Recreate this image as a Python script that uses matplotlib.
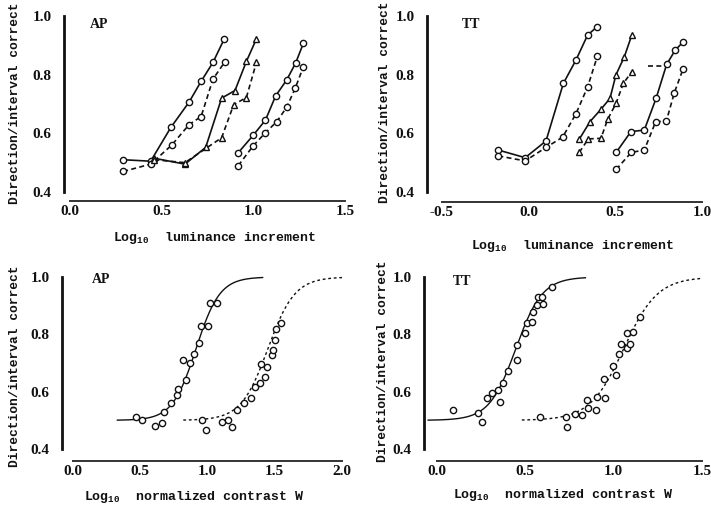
import numpy as np
import matplotlib.pyplot as plt

plt.rcParams['font.family'] = 'Liberation Serif'
plt.rcParams['font.weight'] = 'bold'
plt.rcParams['axes.labelweight'] = 'bold'
plt.rcParams['mathtext.fontset'] = 'custom'
plt.rcParams['mathtext.bf'] = 'Liberation Mono:bold'
plt.rcParams['mathtext.rm'] = 'Liberation Mono:bold'

W, H = 711, 508

# --- AP, luminance increment: three conditions, solid / dashed pairs
ap_c_sol_x = [0.29, 0.44, 0.55, 0.65, 0.715, 0.78, 0.84]
ap_c_sol_y = [0.51, 0.505, 0.62, 0.707, 0.777, 0.842, 0.92]
ap_c_das_x = [0.29, 0.44, 0.555, 0.65, 0.715, 0.78, 0.845]
ap_c_das_y = [0.47, 0.495, 0.56, 0.63, 0.657, 0.785, 0.844]
ap_t_sol_x = [0.46, 0.627, 0.74, 0.827, 0.90, 0.962, 1.017]
ap_t_sol_y = [0.515, 0.495, 0.552, 0.72, 0.746, 0.845, 0.922]
ap_t_das_x = [0.46, 0.627, 0.827, 0.893, 0.962, 1.017]
ap_t_das_y = [0.51, 0.50, 0.585, 0.698, 0.722, 0.842]
ap_d_sol_x = [0.918, 1.0, 1.066, 1.122, 1.182, 1.231, 1.273]
ap_d_sol_y = [0.534, 0.594, 0.645, 0.728, 0.782, 0.84, 0.907]
ap_d_das_x = [0.918, 1.0, 1.066, 1.128, 1.182, 1.228, 1.273]
ap_d_das_y = [0.49, 0.558, 0.602, 0.64, 0.689, 0.753, 0.827]

# --- TT, luminance increment
tt_c_sol_x = [-0.175, -0.02, 0.10, 0.20, 0.273, 0.34, 0.396]
tt_c_sol_y = [0.543, 0.517, 0.574, 0.77, 0.85, 0.935, 0.964]
tt_c_das_x = [-0.175, -0.02, 0.10, 0.196, 0.273, 0.34, 0.396]
tt_c_das_y = [0.523, 0.506, 0.552, 0.587, 0.667, 0.758, 0.862]
tt_t_sol_x = [0.292, 0.354, 0.417, 0.469, 0.504, 0.552, 0.595]
tt_t_sol_y = [0.58, 0.64, 0.682, 0.719, 0.80, 0.861, 0.935]
tt_t_das_x = [0.292, 0.344, 0.417, 0.456, 0.504, 0.546, 0.595]
tt_t_das_y = [0.535, 0.581, 0.583, 0.648, 0.702, 0.77, 0.81]
tt_d_sol_x = [0.505, 0.59, 0.667, 0.735, 0.796, 0.846, 0.892]
tt_d_sol_y = [0.535, 0.606, 0.611, 0.719, 0.835, 0.884, 0.912]
tt_d_das_x = [0.505, 0.592, 0.667, 0.733, 0.794, 0.84, 0.89]
tt_d_das_y = [0.477, 0.535, 0.543, 0.64, 0.641, 0.738, 0.818]
tt_stub_x = [0.69, 0.78]
tt_stub_y = [0.83, 0.83]

# --- AP, normalized contrast W (pooled points)
apw_sol_x = [0.47, 0.51, 0.61, 0.66, 0.68, 0.73, 0.77, 0.78, 0.82, 0.84,
             0.87, 0.90, 0.94, 0.95, 1.00, 1.02, 1.07]
apw_sol_y = [0.51, 0.50, 0.48, 0.49, 0.53, 0.56, 0.59, 0.61, 0.71, 0.64,
             0.70, 0.73, 0.77, 0.83, 0.83, 0.91, 0.91]
apw_das_x = [0.96, 0.99, 1.11, 1.155, 1.18, 1.22, 1.27, 1.32, 1.35, 1.39,
             1.40, 1.43, 1.44, 1.48, 1.49, 1.50, 1.51, 1.55]
apw_das_y = [0.50, 0.466, 0.495, 0.50, 0.478, 0.536, 0.559, 0.577, 0.617, 0.629,
             0.695, 0.652, 0.687, 0.728, 0.745, 0.78, 0.82, 0.838]

# --- TT, normalized contrast W
ttw_sol_x = [0.09, 0.234, 0.253, 0.281, 0.31, 0.347, 0.357, 0.375, 0.404, 0.451,
             0.451, 0.498, 0.508, 0.536, 0.545, 0.564, 0.573, 0.592, 0.598, 0.649]
ttw_sol_y = [0.536, 0.525, 0.495, 0.577, 0.596, 0.606, 0.565, 0.629, 0.673, 0.71,
             0.763, 0.804, 0.841, 0.844, 0.879, 0.902, 0.929, 0.931, 0.906, 0.964]
ttw_das_x = [0.583, 0.73, 0.738, 0.781, 0.819, 0.847, 0.856, 0.90, 0.904, 0.951,
             0.945, 0.998, 1.013, 1.032, 1.04, 1.074, 1.092, 1.074, 1.107, 1.149]
ttw_das_y = [0.511, 0.511, 0.478, 0.522, 0.519, 0.571, 0.542, 0.536, 0.58, 0.577,
             0.643, 0.69, 0.658, 0.73, 0.768, 0.751, 0.768, 0.806, 0.809, 0.859]

# logistic psychometric fits: (threshold, spread, x from, x to)
apw_sol_fit = (0.915, 0.088, 0.33, 1.41)
apw_das_fit = (1.449, 0.100, 0.82, 2.0)
ttw_sol_fit = (0.446, 0.075, -0.05, 0.84)
ttw_das_fit = (1.057, 0.0955, 0.48, 1.5)

DASH = (0, (3, 2))
FITDASH = (0, (2, 2))
INK = '#111111'
LABEL_FONT = 'Liberation Mono'


def place(fig, box, xref, yref):
    # box in pixels (left, right, top, bottom); refs are two (pixel, value) pairs
    l, r, t, b = box
    (px0, vx0), (px1, vx1) = xref
    (py0, vy0), (py1, vy1) = yref
    kx = (vx1 - vx0) / (px1 - px0)
    ky = (vy1 - vy0) / (py1 - py0)
    ax = fig.add_axes([l / W, 1 - b / H, (r - l) / W, (b - t) / H])
    ax.set_xlim(vx0 + (l - px0) * kx, vx0 + (r - px0) * kx)
    ax.set_ylim(vy0 + (b - py0) * ky, vy0 + (t - py0) * ky)
    return ax


def style(ax, xticks, xlab, xlab_px, ylab_px, tag, tag_xy):
    for s in ('top', 'right'):
        ax.spines[s].set_visible(False)
    ax.spines['left'].set_bounds(0.4, 1.0)
    ax.spines['left'].set_linewidth(2)
    ax.spines['left'].set_color(INK)
    ax.spines['bottom'].set_bounds(xticks[0], xticks[-1])
    ax.spines['bottom'].set_linewidth(1.4)
    ax.spines['bottom'].set_color('#333333')
    ax.set_yticks([0.4, 0.6, 0.8, 1.0])
    ax.set_yticklabels(['0.4', '0.6', '0.8', '1.0'])
    ax.set_xticks(xticks)
    ax.set_xticklabels([f'{v:.1f}' for v in xticks])
    ax.tick_params(axis='both', length=0, labelsize=11, labelcolor=INK)
    ax.tick_params(axis='y', pad=9)
    ax.tick_params(axis='x', pad=3)
    ax.set_xlabel(xlab, fontsize=9.5, color=INK, family=LABEL_FONT)
    ax.xaxis.set_label_coords(xlab_px[0] / W, 1 - xlab_px[1] / H, transform=ax.figure.transFigure)
    ax.xaxis.label.set_va('center')
    ax.set_ylabel('Direction/interval correct', fontsize=9.3, color=INK, family=LABEL_FONT)
    ax.yaxis.set_label_coords(ylab_px[0] / W, 1 - ylab_px[1] / H, transform=ax.figure.transFigure)
    ax.yaxis.label.set_va('center')
    ax.text(tag_xy[0], tag_xy[1], tag, fontsize=10, ha='left', va='center', color=INK)


def pair(ax, xs, ys, marker):
    ax.plot(xs, ys, color=INK, lw=1.2, marker=marker, ms=4.5,
            mfc='white', mec=INK, mew=1.0)


def dpair(ax, xs, ys, marker):
    ax.plot(xs, ys, color=INK, lw=1.2, ls=DASH, marker=marker, ms=4.5,
            mfc='white', mec=INK, mew=1.0)


def fit(ax, params, ls):
    m, s, x0, x1 = params
    xx = np.linspace(x0, x1, 200)
    yy = 0.5 + 0.5 / (1 + np.exp(-(xx - m) / s))
    ax.plot(xx, yy, color=INK, lw=1.0, ls=ls)


def pts(ax, xs, ys):
    ax.plot(xs, ys, ls='none', marker='o', ms=4.5, mfc='white', mec=INK, mew=1.0)


fig = plt.figure(figsize=(W / 100, H / 100), dpi=100)

# top left: AP luminance
ax1 = place(fig, (64, 350, 8, 201), ((70, 0.0), (345, 1.5)), ((16, 1.0), (192, 0.4)))
pair(ax1, ap_c_sol_x, ap_c_sol_y, 'o')
dpair(ax1, ap_c_das_x, ap_c_das_y, 'o')
pair(ax1, ap_t_sol_x, ap_t_sol_y, '^')
dpair(ax1, ap_t_das_x, ap_t_das_y, '^')
pair(ax1, ap_d_sol_x, ap_d_sol_y, 'o')
dpair(ax1, ap_d_das_x, ap_d_das_y, 'o')
style(ax1, [0.0, 0.5, 1.0, 1.5], r'Log$_{\mathbf{10}}$  luminance increment',
      (215, 238), (15, 103), 'AP', (0.11, 0.97))

# top right: TT luminance
ax2 = place(fig, (427, 706, 8, 202), ((442, -0.5), (702, 1.0)), ((16, 1.0), (192, 0.4)))
pair(ax2, tt_c_sol_x, tt_c_sol_y, 'o')
dpair(ax2, tt_c_das_x, tt_c_das_y, 'o')
pair(ax2, tt_t_sol_x, tt_t_sol_y, '^')
dpair(ax2, tt_t_das_x, tt_t_das_y, '^')
pair(ax2, tt_d_sol_x, tt_d_sol_y, 'o')
dpair(ax2, tt_d_das_x, tt_d_das_y, 'o')
ax2.plot(tt_stub_x, tt_stub_y, color=INK, lw=1.2, ls=DASH)
style(ax2, [-0.5, 0.0, 0.5, 1.0], r'Log$_{\mathbf{10}}$  luminance increment',
      (573, 246), (385, 102), 'TT', (-0.386, 0.97))

# bottom left: AP normalized contrast
ax3 = place(fig, (62, 346, 268, 461), ((73, 0.0), (342, 2.0)), ((277, 1.0), (449, 0.4)))
fit(ax3, apw_sol_fit, '-')
fit(ax3, apw_das_fit, FITDASH)
pts(ax3, apw_sol_x, apw_sol_y)
pts(ax3, apw_das_x, apw_das_y)
style(ax3, [0.0, 0.5, 1.0, 1.5, 2.0], r'Log$_{\mathbf{10}}$  normalized contrast W',
      (194, 497), (15, 366), 'AP', (0.139, 0.99))

# bottom right: TT normalized contrast
ax4 = place(fig, (424, 706, 268, 461), ((437, 0.0), (702, 1.5)), ((277, 1.0), (449, 0.4)))
fit(ax4, ttw_sol_fit, '-')
fit(ax4, ttw_das_fit, FITDASH)
pts(ax4, ttw_sol_x, ttw_sol_y)
pts(ax4, ttw_das_x, ttw_das_y)
style(ax4, [0.0, 0.5, 1.0, 1.5], r'Log$_{\mathbf{10}}$  normalized contrast W',
      (563, 495), (383, 361), 'TT', (0.092, 0.984))

fig.savefig('out.png', dpi=100)
